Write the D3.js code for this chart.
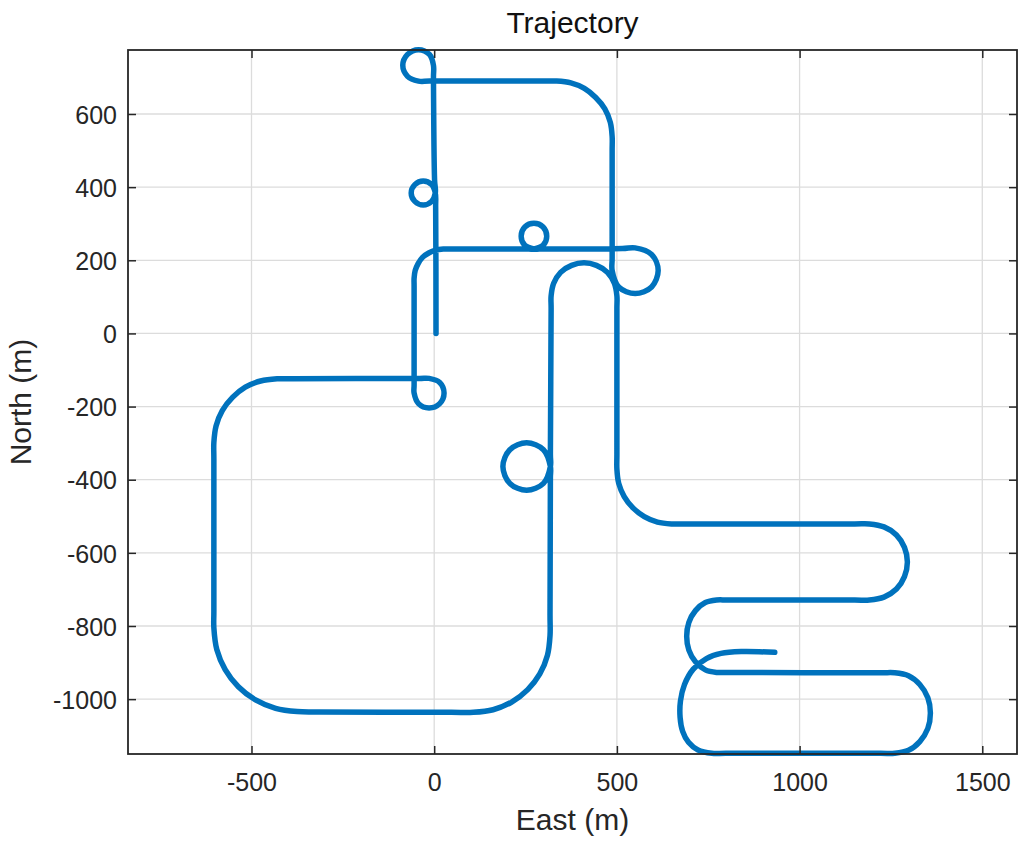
<!DOCTYPE html>
<html><head><meta charset="utf-8">
<script src="https://cdn.jsdelivr.net/npm/d3@7"></script>
<style>body{margin:0;background:#fff;} svg{display:block;}</style>
</head><body>
<svg id="c" width="1024" height="842"></svg>
<script>
const xTicks = [-500, 0, 500, 1000, 1500];
const yTicks = [-1000, -800, -600, -400, -200, 0, 200, 400, 600];
const titleText = "Trajectory";
const xLabel = "East (m)";
const yLabel = "North (m)";
// trajectory samples (East, North) in metres
const east = [5,4,3,-7,-30,-53,-63,-53,-30,-7,3,1,-2,-2,
  -13,-43,-73,-86,-73,-43,-13,300,
  335,374,411,442,467,482,487,487,487,487,
  505,550,595,613,595,550,515,300,273,
  248,238,248,273,298,308,298,273,248,45,
  25,4,-15,-32,-44,-52,-55,-55,-55,-55,
  -43,-14,15,27,15,-14,-40,-385,
  -430,-475,-517,-552,-580,-597,-603,-603,-603,
  -603,-595,-572,-536,-489,-434,-375,-315,47,
  107,161,212,256,289,310,317,317,318,318,
  299,253,207,188,207,253,299,318,318,320,
  320,327,346,376,410,444,474,493,500,500,500,
  500,505,520,544,575,611,650,690,1151,
  1191,1231,1265,1287,1295,1287,1265,1231,1191,1151,804,
  773,742,715,697,691,697,715,742,773,804,1222,
  1260,1298,1329,1351,1358,1351,1329,1298,1260,1222,798,
  760,722,696,680,673,674,685,709,745,785,840,932];
const north = [0,345,384,407,417,407,384,361,351,361,384,420,700,733,
  763,776,763,733,703,690,690,690,
  690,685,670,645,614,577,538,500,205,172,
  127,109,127,172,216,234,232,231,231,
  241,266,291,301,291,266,241,231,231,231,
  231,228,220,208,191,172,151,130,-140,-163,
  -192,-204,-192,-163,-134,-123,-123,-124,
  -124,-130,-147,-175,-211,-253,-298,-343,-760,
  -805,-864,-919,-966,-1002,-1025,-1034,-1035,-1036,
  -1036,-1029,-1008,-974,-931,-880,-826,-770,-395,-364,
  -318,-299,-318,-364,-410,-429,-410,-364,-330,68,
  103,137,167,186,193,186,167,137,103,68,-332,
  -371,-410,-446,-477,-501,-516,-521,-521,-521,
  -521,-529,-551,-585,-625,-665,-699,-721,-729,-729,-729,
  -729,-736,-758,-790,-828,-866,-898,-920,-927,-927,-928,
  -928,-936,-960,-996,-1038,-1080,-1116,-1140,-1148,-1148,-1148,
  -1148,-1139,-1118,-1088,-1050,-1005,-960,-918,-889,-875,-870,-872];

const svg = d3.select("#c");
const L = 128, R = 1017, T = 50, B = 754;
const x = d3.scaleLinear().domain([-838, 1595]).range([L, R]);
const y = d3.scaleLinear().domain([-1150, 775]).range([B, T]);
const ink = "#262626";
const font = "'Liberation Sans', Arial, Helvetica, sans-serif";

// grid
const g = svg.append("g");
g.selectAll(".gx").data(xTicks).join("line")
  .attr("x1", d => x(d)).attr("x2", d => x(d)).attr("y1", T).attr("y2", B)
  .attr("stroke", "#dcdcdc").attr("stroke-width", 1.3);
g.selectAll(".gy").data(yTicks).join("line")
  .attr("y1", d => y(d)).attr("y2", d => y(d)).attr("x1", L).attr("x2", R)
  .attr("stroke", "#dcdcdc").attr("stroke-width", 1.3);

// trajectory
const pts = east.map((e, i) => [e, north[i]]);
const line = d3.line().x(d => x(d[0])).y(d => y(d[1])).curve(d3.curveCatmullRom.alpha(0.5));
svg.append("path").attr("d", line(pts)).attr("fill", "none")
  .attr("stroke", "#0072BD").attr("stroke-width", 5.5)
  .attr("stroke-linejoin", "round").attr("stroke-linecap", "round");

// axes
function style(sel) {
  sel.select(".domain").remove();
  sel.selectAll(".tick line").attr("stroke", ink).attr("stroke-width", 1.5);
  sel.selectAll(".tick text").attr("fill", ink).style("font-family", font).style("font-size", "25px");
}
svg.append("g").attr("transform", `translate(0,${B})`)
  .call(d3.axisBottom(x).tickValues(xTicks).tickSize(-8).tickSizeOuter(0).tickPadding(19).tickFormat(d3.format("d")))
  .call(style);
svg.append("g").attr("transform", `translate(0,${T})`)
  .call(d3.axisTop(x).tickValues(xTicks).tickSize(-8).tickSizeOuter(0).tickFormat(""))
  .call(style);
const ly = svg.append("g").attr("transform", `translate(${L},0)`)
  .call(d3.axisLeft(y).tickValues(yTicks).tickSize(-8).tickSizeOuter(0).tickPadding(11).tickFormat(d3.format("d")))
  .call(style);
ly.selectAll(".tick text").attr("dy", "0.37em");
svg.append("g").attr("transform", `translate(${R},0)`)
  .call(d3.axisRight(y).tickValues(yTicks).tickSize(-8).tickSizeOuter(0).tickFormat(""))
  .call(style);

svg.selectAll(".tick text").text(function(){ return this.textContent.replace("\u2212","-"); });

// box
svg.append("rect").attr("x", L).attr("y", T).attr("width", R - L).attr("height", B - T)
  .attr("fill", "none").attr("stroke", ink).attr("stroke-width", 1.8);

// labels
svg.append("text").attr("x", (L + R) / 2).attr("y", 33).attr("text-anchor", "middle")
  .style("font-family", font).style("font-size", "30px").attr("fill", "#111").text(titleText);
svg.append("text").attr("x", (L + R) / 2).attr("y", 830).attr("text-anchor", "middle")
  .style("font-family", font).style("font-size", "30px").attr("fill", ink).text(xLabel);
svg.append("text").attr("transform", `translate(31,${(T + B) / 2}) rotate(-90)`).attr("text-anchor", "middle")
  .style("font-family", font).style("font-size", "30px").attr("fill", ink).text(yLabel);
</script>
</body></html>
